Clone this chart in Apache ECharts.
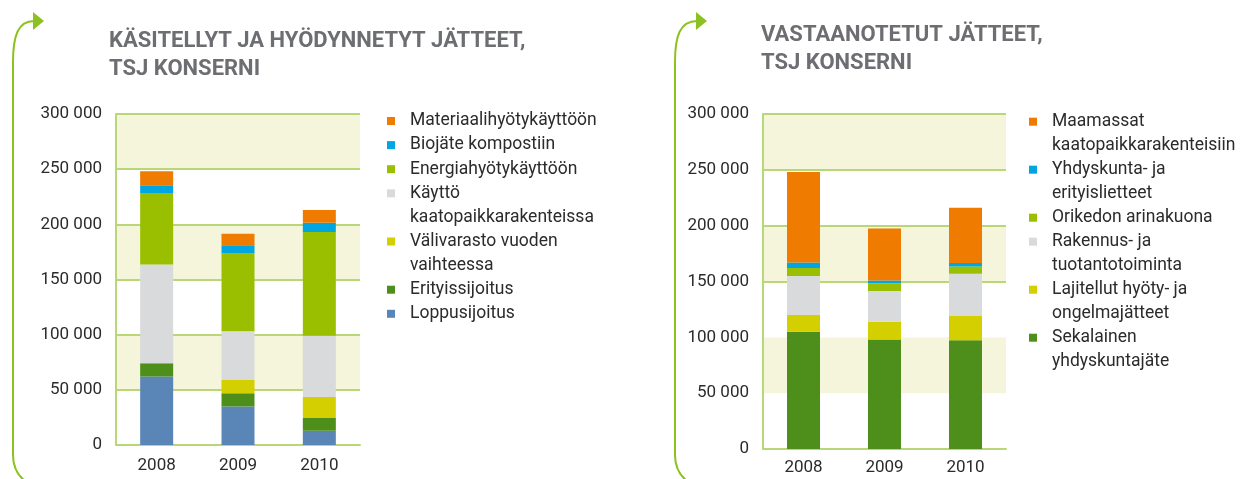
<!DOCTYPE html>
<html>
<head>
<meta charset="utf-8">
<script src="https://cdn.jsdelivr.net/npm/echarts@6/dist/echarts.min.js"></script>
<style>
  html, body { margin: 0; padding: 0; background: #fff; }
  #main { width: 1256px; height: 479px; }
</style>
</head>
<body>
<div id="main"></div>
<script>
// years on the x axis
var years = ['2008', '2009', '2010'];

// left chart: käsitellyt ja hyödynnetyt jätteet (stack bottom -> top)
var leftNames = ['Loppusijoitus', 'Erityissijoitus', 'Välivarasto vuoden\nvaihteessa',
  'Käyttö\nkaatopaikkarakenteissa', 'Energiahyötykäyttöön', 'Biojäte kompostiin', 'Materiaalihyötykäyttöön'];
var loppusijoitus = [62000, 35000, 13000];
var erityissijoitus = [12000, 12000, 11500];
var valivarasto = [0, 12000, 19000];
var kayttoKaatopaikka = [89500, 44000, 55500];
var energiahyoty = [65000, 70500, 94000];
var biojate = [7000, 7500, 8500];
var materiaalihyoty = [12500, 10500, 11500];
var leftData = [loppusijoitus, erityissijoitus, valivarasto, kayttoKaatopaikka, energiahyoty, biojate, materiaalihyoty];
var leftColors = ['#5a86b7', '#4e8f1c', '#d3cf00', '#d9dadb', '#9abf00', '#00a6e2', '#ef7b00'];

// right chart: vastaanotetut jätteet (stack bottom -> top)
var rightNames = ['Sekalainen\nyhdyskuntajäte', 'Lajitellut hyöty- ja\nongelmajätteet', 'Rakennus- ja\ntuotantotoiminta',
  'Orikedon arinakuona', 'Yhdyskunta- ja\nerityislietteet', 'Maamassat\nkaatopaikkarakenteisiin'];
var sekalainen = [105000, 98000, 97500];
var lajitellut = [15000, 16000, 21500];
var rakennus = [35000, 27500, 38000];
var orikedon = [7000, 7000, 6500];
var yhdyskunta = [5000, 2500, 3000];
var maamassat = [81000, 46500, 49500];
var rightData = [sekalainen, lajitellut, rakennus, orikedon, yhdyskunta, maamassat];
var rightColors = ['#4e8f1c', '#d3cf00', '#d9dadb', '#9abf00', '#00a6e2', '#ef7b00'];

var FONT = 'Roboto, "Noto Sans", sans-serif';
var gridGreen = '#b9d777';
var band = '#f4f5da';

function fmt(v) {
  return String(v).replace(/\B(?=(\d{3})+(?!\d))/g, ' ');
}

var chart = echarts.init(document.getElementById('main'));

function yAxis(gi, lineColors) {
  return {
    type: 'value', gridIndex: gi, min: 0, max: 300000, interval: 50000,
    axisLine: { show: true, lineStyle: { color: gridGreen, width: 2 } },
    axisTick: { show: false },
    axisLabel: { formatter: fmt, color: '#2b2b2b', fontSize: 17, fontFamily: FONT, margin: 14 },
    splitLine: { show: true, lineStyle: { color: lineColors, width: 2 } },
    splitArea: { show: true, areaStyle: { color: ['#ffffff', band] } }
  };
}

function xAxis(gi, margin) {
  return {
    type: 'category', gridIndex: gi, data: years,
    axisLine: { lineStyle: { color: gridGreen, width: 2 } },
    axisTick: { show: false },
    axisLabel: { color: '#2b2b2b', fontSize: 17, fontFamily: FONT, margin: margin }
  };
}

var series = [];
var legends = [];

function addLegend(name, left, center) {
  var twoLine = name.indexOf('\n') >= 0;
  legends.push({
    data: [name],
    selectedMode: false,
    orient: 'vertical',
    left: left,
    top: center - 12,
    padding: 0,
    itemWidth: 18,
    itemHeight: twoLine ? 32 : 8,
    icon: twoLine ? 'path://M0,0h8v8h-8zM18,32' : 'path://M0,0h8v8h-8zM18,0',
    textStyle: { color: '#2b2b2b', fontSize: 17.5, fontFamily: FONT, lineHeight: 24 }
  });
}

leftNames.forEach(function (n, i) {
  series.push({
    name: n, type: 'bar', stack: 'left', xAxisIndex: 0, yAxisIndex: 0,
    barWidth: 33, data: leftData[i], itemStyle: { color: leftColors[i] }
  });
});
rightNames.forEach(function (n, i) {
  series.push({
    name: n, type: 'bar', stack: 'right', xAxisIndex: 1, yAxisIndex: 1,
    barWidth: 33, data: rightData[i], itemStyle: { color: rightColors[i] }
  });
});

// legend rows (top to bottom), row index on a 24px line grid
var leftRows = [8, 7, 5, 3, 2, 1, 0];
leftNames.forEach(function (n, i) {
  addLegend(n, 387, 121 + 24.1 * leftRows[i]);
});
var rightRows = [9, 7, 5, 4, 2, 0];
rightNames.forEach(function (n, i) {
  addLegend(n, 1029, 121.7 + 24 * rightRows[i]);
});

var arrowGreen = '#8cc21f';

// decorative bracket arrow on the left of each panel
function bracket(x, tipX) {
  var st = { stroke: arrowGreen, fill: null, lineWidth: 2 };
  return [
    { type: 'bezierCurve', shape: { x1: x, y1: 455, cpx1: x, cpy1: 466, cpx2: x + 3, cpy2: 474, x2: x + 12, y2: 481 }, style: st },
    { type: 'line', shape: { x1: x, y1: 455, x2: x, y2: 62 }, style: st },
    { type: 'bezierCurve', shape: { x1: x, y1: 62, cpx1: x, cpy1: 36, cpx2: x + 5, cpy2: 21, x2: tipX - 10, y2: 21 }, style: st },
    { type: 'polygon', shape: { points: [[tipX - 11, 12], [tipX, 21], [tipX - 11, 30]] }, style: { fill: arrowGreen } }
  ];
}

var option = {
  animation: false,
  backgroundColor: '#ffffff',
  title: [{
    text: 'KÄSITELLYT JA HYÖDYNNETYT JÄTTEET,\nTSJ KONSERNI',
    left: 109, top: 27, padding: 0,
    textStyle: { color: '#6d6e71', fontSize: 22, fontWeight: 'bold', fontFamily: FONT, lineHeight: 28 }
  }, {
    text: 'VASTAANOTETUT JÄTTEET,\nTSJ KONSERNI',
    left: 761, top: 21, padding: 0,
    textStyle: { color: '#6d6e71', fontSize: 22, fontWeight: 'bold', fontFamily: FONT, lineHeight: 28 }
  }],
  legend: legends,
  grid: [
    { left: 116, top: 114, width: 244, height: 331 },
    { left: 763, top: 114, width: 243, height: 335 }
  ],
  xAxis: [xAxis(0, 12), xAxis(1, 10)],
  yAxis: [
    yAxis(0, [gridGreen]),
    yAxis(1, [gridGreen, 'rgba(0,0,0,0)', 'rgba(0,0,0,0)', gridGreen, gridGreen, gridGreen, gridGreen])
  ],
  series: series,
  graphic: bracket(13, 44).concat(bracket(675, 707))
};

chart.setOption(option);
</script>
</body>
</html>
